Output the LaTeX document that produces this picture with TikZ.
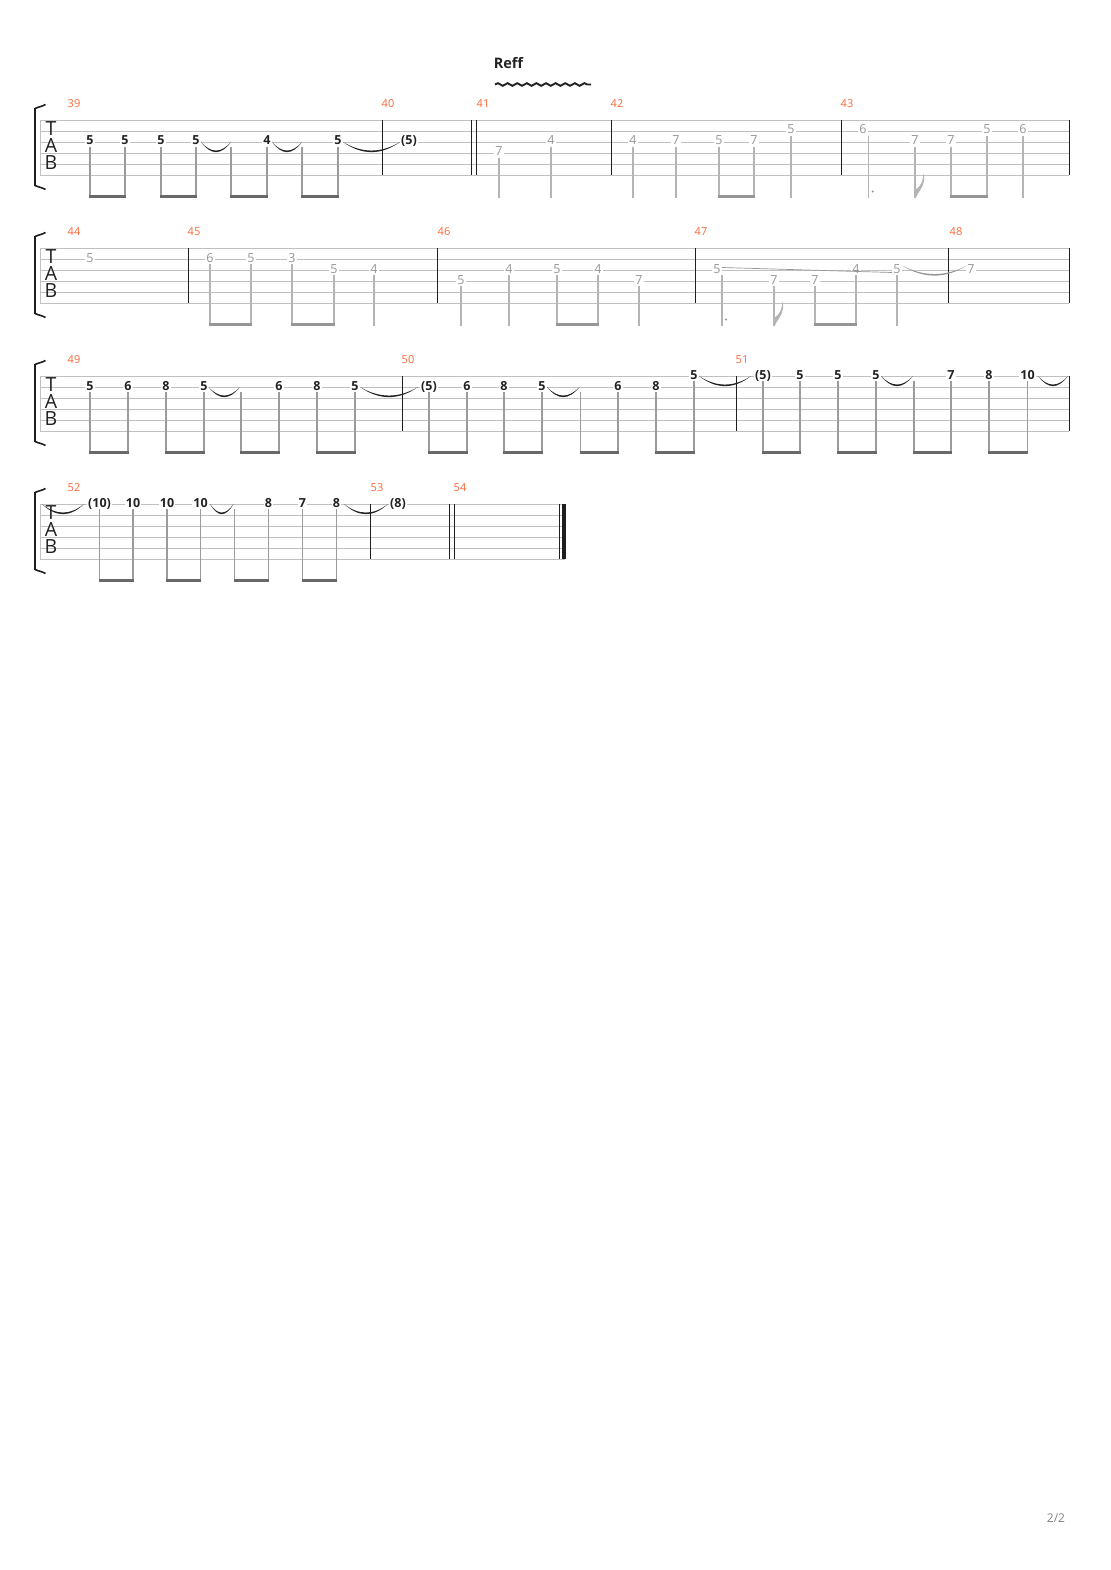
\documentclass[tikz,border=0pt]{standalone}
\usepackage{fontspec}
\setmainfont{Open Sans}
\usetikzlibrary{decorations.pathmorphing}
\definecolor{staffc}{RGB}{192,192,192}
\definecolor{barc}{RGB}{30,30,30}
\definecolor{numc}{RGB}{250,105,55}
\definecolor{notec}{RGB}{34,34,34}
\definecolor{gnotec}{RGB}{150,150,150}
\definecolor{bstemc}{RGB}{155,155,155}
\definecolor{bbeamc}{RGB}{105,105,105}
\definecolor{gstemc}{RGB}{180,180,180}
\definecolor{gbeamc}{RGB}{150,150,150}
\tikzset{
  staff/.style={draw=staffc, line width=0.9pt},
  barl/.style={draw=barc, line width=1pt},
  bnote/.style={font=\fontsize{12.5}{13}\selectfont\bfseries, text=notec, fill=white, inner xsep=1.2pt, inner ysep=0.6pt, anchor=base},
  gnote/.style={font=\fontsize{12.5}{13}\selectfont, text=gnotec, fill=white, inner xsep=1.2pt, inner ysep=0.6pt, anchor=base},
  mnum/.style={font=\fontsize{11}{11}\selectfont, text=numc},
  tabl/.style={font=\fontsize{19.5}{19}\selectfont, text=notec, inner sep=0pt},
  bstem/.style={draw=bstemc, line width=1.3pt},
  gstem/.style={draw=gstemc, line width=1.1pt},
  bbeam/.style={draw=bbeamc, line width=2.6pt},
  gbeam/.style={draw=gbeamc, line width=2.4pt},
}
\newcommand\bn[4]{\node[bnote] at (#2,{#1+11*(#3-1)+3}) {#4};}
\newcommand\gn[4]{\node[gnote] at (#2,{#1+11*(#3-1)+3}) {#4};}
\newcommand\stm[4]{\draw[#4] (#2,{#1+11*(#3-1)+5}) -- (#2,{#1+77.8});}
\newcommand\beamx[4]{\draw[#4] ({#2-0.65},{#1+76.6}) -- ({#3+0.65},{#1+76.6});}
\newcommand\mytie[4]{\fill[#4] (#2,#1) .. controls ({#2+(#3-#2)/3},{#1+13.5}) and ({#3-(#3-#2)/3},{#1+13.5}) .. (#3,#1) .. controls ({#3-(#3-#2)/3},{#1+11.4}) and ({#2+(#3-#2)/3},{#1+11.4}) .. cycle;}
\newcommand\myflag[2]{%
  \fill[gstemc] ({#2-0.6},{#1+78}) -- ({#2+0.6},{#1+78}) .. controls ({#2+3},{#1+72}) and ({#2+8},{#1+68}) .. ({#2+9},{#1+61}) .. controls ({#2+9.6},{#1+57}) and ({#2+8.5},{#1+55}) .. ({#2+8},{#1+53}) .. controls ({#2+9},{#1+57}) and ({#2+7},{#1+66}) .. ({#2},{#1+70}) -- cycle;}
\newcommand\staffrow[2]{% y0, right end
  \foreach \i in {0,...,5} {\draw[staff] (40,{#1+11*\i}) -- (#2,{#1+11*\i});}
  \draw[staff] (40,#1) -- (40,{#1+55});
  \node[tabl] at (51,{#1+9}) {T};
  \node[tabl] at (51,{#1+26}) {A};
  \node[tabl] at (51,{#1+43}) {B};
  \fill[barc] (33.6,{#1-12}) rectangle (36.4,{#1+66});
  \draw[barc, line width=1.6pt] (35,{#1-11.5}) .. controls (38,{#1-13}) and (42,{#1-13.5}) .. (45.5,{#1-15.5});
  \draw[barc, line width=1.6pt] (35,{#1+65.5}) .. controls (38,{#1+67}) and (42,{#1+67.5}) .. (45.5,{#1+69.5});
}
\begin{document}
\begin{tikzpicture}[x=1pt,y=-1pt]
\fill[white] (0,0) rectangle (1110,1570);
\useasboundingbox (0,0) rectangle (1110,1570);

% ---------- title
\node[font=\fontsize{14.5}{15}\selectfont\bfseries, text=notec] (reff) at (508.5,63) {Reff};
\draw[notec, line width=1.9pt, decorate, decoration={snake, segment length=9.6, amplitude=1.3}] (495,84.5) -- (591,84.5);
\node[font=\fontsize{12}{12}\selectfont, text=gray] (page) at (1056,1518) {2/2};

% ================= ROW 1 (y0=120)
\staffrow{120}{1069}
\foreach \x in {382,471,476,611,841,1069} {\draw[barl] (\x,120) -- (\x,175);}
\node[mnum] at (74,104) {39};
\node[mnum] at (388,104) {40};
\node[mnum] at (483,104) {41};
\node[mnum] at (617,104) {42};
\node[mnum] at (847,104) {43};
% m39-40
\bn{120}{90}{3}{5}\bn{120}{125}{3}{5}\bn{120}{161}{3}{5}\bn{120}{196}{3}{5}
\bn{120}{267}{3}{4}\bn{120}{338}{3}{5}\bn{120}{409}{3}{(5)}
\foreach \x in {90,125,161,196,231,267,302,338} {\stm{120}{\x}{3}{bstem}}
\beamx{120}{90}{125}{bbeam}\beamx{120}{161}{196}{bbeam}
\beamx{120}{231}{267}{bbeam}\beamx{120}{302}{338}{bbeam}
\mytie{142}{201}{231}{notec}\mytie{142}{272}{302}{notec}\mytie{142}{343}{400}{notec}
% m41
\gn{120}{499}{4}{7}\gn{120}{551}{3}{4}
\stm{120}{499}{4}{gstem}\stm{120}{551}{3}{gstem}
% m42
\gn{120}{633}{3}{4}\gn{120}{676}{3}{7}\gn{120}{719}{3}{5}\gn{120}{754}{3}{7}\gn{120}{791}{2}{5}
\stm{120}{633}{3}{gstem}\stm{120}{676}{3}{gstem}\stm{120}{719}{3}{gstem}\stm{120}{754}{3}{gstem}\stm{120}{791}{2}{gstem}
\beamx{120}{719}{754}{gbeam}
% m43
\gn{120}{863}{2}{6}\gn{120}{915}{3}{7}\gn{120}{951}{3}{7}\gn{120}{987}{2}{5}\gn{120}{1023}{2}{6}
\stm{120}{868.5}{2}{gstem}\stm{120}{915}{3}{gstem}\stm{120}{951}{3}{gstem}\stm{120}{987}{2}{gstem}\stm{120}{1023}{2}{gstem}
\beamx{120}{951}{987}{gbeam}
\fill[gnotec] (872.7,191.5) circle (1.2);
\myflag{120}{915}

% ================= ROW 2 (y0=248)
\staffrow{248}{1069}
\foreach \x in {188,437,695,948,1069} {\draw[barl] (\x,248) -- (\x,303);}
\node[mnum] at (74,232) {44};
\node[mnum] at (194,232) {45};
\node[mnum] at (444,232) {46};
\node[mnum] at (701,232) {47};
\node[mnum] at (956,232) {48};
\gn{248}{90}{2}{5}
% m45
\gn{248}{210}{2}{6}\gn{248}{251}{2}{5}\gn{248}{292}{2}{3}\gn{248}{334}{3}{5}\gn{248}{374}{3}{4}
\stm{248}{210}{2}{gstem}\stm{248}{251}{2}{gstem}\stm{248}{292}{2}{gstem}\stm{248}{334}{3}{gstem}\stm{248}{374}{3}{gstem}
\beamx{248}{210}{251}{gbeam}\beamx{248}{292}{334}{gbeam}
% m46
\gn{248}{461}{4}{5}\gn{248}{509}{3}{4}\gn{248}{557}{3}{5}\gn{248}{598}{3}{4}\gn{248}{639}{4}{7}
\stm{248}{461}{4}{gstem}\stm{248}{509}{3}{gstem}\stm{248}{557}{3}{gstem}\stm{248}{598}{3}{gstem}\stm{248}{639}{4}{gstem}
\beamx{248}{557}{598}{gbeam}
% m47
\gn{248}{717}{3}{5}\gn{248}{774}{4}{7}\gn{248}{815}{4}{7}\gn{248}{856}{3}{4}\gn{248}{897}{3}{5}
\stm{248}{722}{3}{gstem}\stm{248}{774}{4}{gstem}\stm{248}{815}{4}{gstem}\stm{248}{856}{3}{gstem}\stm{248}{897}{3}{gstem}
\beamx{248}{815}{856}{gbeam}
\fill[gnotec] (726,319.5) circle (1.2);
\myflag{248}{774}
\draw[gnotec, line width=0.7pt] (722,267.5) -- (892,272.5);
% m48
\gn{248}{971}{3}{7}
\mytie{265.5}{902}{967}{gnotec}

% ================= ROW 3 (y0=376)
\staffrow{376}{1069}
\foreach \x in {402,736,1069} {\draw[barl] (\x,376) -- (\x,431);}
\node[mnum] at (74,360) {49};
\node[mnum] at (408,360) {50};
\node[mnum] at (742,360) {51};
\bn{376}{90}{2}{5}\bn{376}{128}{2}{6}\bn{376}{166}{2}{8}\bn{376}{204}{2}{5}
\bn{376}{279}{2}{6}\bn{376}{317}{2}{8}\bn{376}{355}{2}{5}
\bn{376}{429}{2}{(5)}\bn{376}{467}{2}{6}\bn{376}{504}{2}{8}\bn{376}{542}{2}{5}
\bn{376}{618}{2}{6}\bn{376}{656}{2}{8}\bn{376}{694}{1}{5}
\bn{376}{763}{1}{(5)}\bn{376}{800}{1}{5}\bn{376}{838}{1}{5}\bn{376}{876}{1}{5}
\bn{376}{951}{1}{7}\bn{376}{989}{1}{8}\bn{376}{1027.5}{1}{10}
\foreach \x in {90,128,166,204,241,279,317,355,429,467,504,542,580.5,618,656} {\stm{376}{\x}{2}{bstem}}
\foreach \x in {694,763,800,838,876,914,951,989,1027.5} {\stm{376}{\x}{1}{bstem}}
\foreach \a/\b in {90/128,166/204,241/279,317/355,429/467,504/542,580.5/618,656/694,763/800,838/876,914/951,989/1027.5} {\beamx{376}{\a}{\b}{bbeam}}
\mytie{387}{208.5}{240}{notec}\mytie{387}{360}{418}{notec}\mytie{387}{547}{579.5}{notec}
\mytie{376}{699}{751}{notec}\mytie{376}{881}{913}{notec}\mytie{376}{1038}{1068}{notec}

% ================= ROW 4 (y0=504)
\staffrow{504}{565}
\foreach \x in {370,449,454,559} {\draw[barl] (\x,504) -- (\x,559);}
\fill[barc] (562,504) rectangle (565.5,559);
\node[mnum] at (74,488) {52};
\node[mnum] at (377,488) {53};
\node[mnum] at (460,488) {54};
\bn{504}{99.5}{1}{(10)}\bn{504}{133}{1}{10}\bn{504}{167}{1}{10}\bn{504}{200.5}{1}{10}
\bn{504}{268.5}{1}{8}\bn{504}{302.5}{1}{7}\bn{504}{336.5}{1}{8}\bn{504}{398}{1}{(8)}
\foreach \x in {99.5,133,167,200.5,234.5,268.5,302.5,336.5} {\stm{504}{\x}{1}{bstem}}
\foreach \a/\b in {99.5/133,167/200.5,234.5/268.5,302.5/336.5} {\beamx{504}{\a}{\b}{bbeam}}
\mytie{504}{42}{84}{notec}\mytie{504}{210}{233.5}{notec}\mytie{504}{344}{388}{notec}
\end{tikzpicture}
\end{document}
